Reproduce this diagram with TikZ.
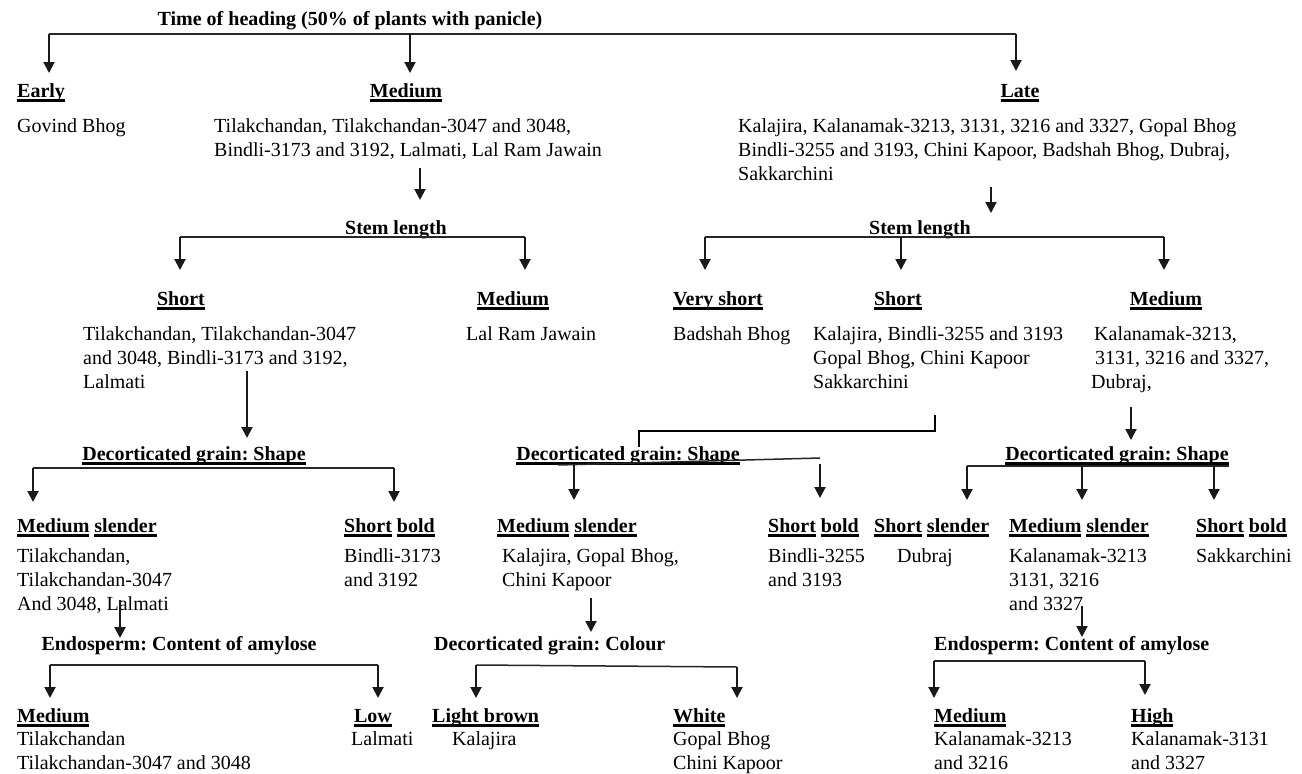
\documentclass[tikz,border=0pt]{standalone}
\usepackage{fontspec}
\setmainfont{Liberation Serif}
\usetikzlibrary{arrows.meta}
\newsavebox\ulbox
\newcommand\myul[1]{\sbox\ulbox{#1}\rlap{\rule[-4.5pt]{\wd\ulbox}{2.3pt}}\usebox\ulbox}
\newcommand\stk[1]{\vtop{\halign{##\hfil\cr#1\crcr}}}
\tikzset{
  hd/.style={inner sep=0pt, font=\bfseries, anchor=base},
  hdw/.style={inner sep=0pt, font=\bfseries, anchor=base west},
  tx/.style={inner sep=0pt, anchor=base west},
  arr/.style={line width=2pt, draw=black!90, -{Triangle[length=11pt,width=11pt]}},
  bus/.style={line width=1.5pt, draw=black!85},
}
\begin{document}
\frenchspacing
\begin{tikzpicture}[x=1pt,y=-1pt]
\fontsize{20}{24}\selectfont\frenchspacing
\fill[white] (0,0) rectangle (1302,774);
\useasboundingbox (0,0) rectangle (1302,774);

% ---------- level 0 ----------
\node[hd] (title) at (350,25) {Time of heading (50\% of plants with panicle)};
\coordinate (b0a) at (49,34); \coordinate (b0b) at (410,34); \coordinate (b0c) at (1016,34);
\draw[bus] (b0a) -- (b0c);
\draw[arr] (b0a) -- ++(0,39);
\draw[arr] (b0b) -- ++(0,39);
\draw[arr] (b0c) -- ++(0,37);

\node[hdw] (early) at (17,97) {\myul{Early}};
\node[hd] (med) at (406,97) {\myul{Medium}};
\node[hd] (late) at (1020,97) {\myul{Late}};
\node[tx] (earlyL) at (17,132) {Govind Bhog};
\node[tx] (medL) at (214,132) {\stk{Tilakchandan, Tilakchandan-3047 and 3048,\cr Bindli-3173 and 3192, Lalmati, Lal Ram Jawain}};
\node[tx] (lateL) at (738,132) {\stk{Kalajira, Kalanamak-3213, 3131, 3216 and 3327, Gopal Bhog\cr Bindli-3255 and 3193, Chini Kapoor, Badshah Bhog, Dubraj,\cr Sakkarchini}};

\coordinate (m1) at (420,168); \draw[arr] (m1) -- ++(0,32);
\coordinate (l1) at (991,187); \draw[arr] (l1) -- ++(0,26);

% ---------- stem length ----------
\node[hd] (stemA) at (396,234) {Stem length};
\coordinate (sa1) at (180,237); \coordinate (sa2) at (525,237);
\draw[bus] (sa1) -- (sa2);
\draw[arr] (sa1) -- ++(0,33);
\draw[arr] (sa2) -- ++(0,33);

\node[hd] (stemB) at (920,234) {Stem length};
\coordinate (sb1) at (705,237); \coordinate (sb2) at (901,237); \coordinate (sb3) at (1164,237);
\draw[bus] (sb1) -- (sb3);
\draw[arr] (sb1) -- ++(0,33);
\draw[arr] (sb2) -- ++(0,33);
\draw[arr] (sb3) -- ++(0,33);

\node[hd] (aShort) at (181,305) {\myul{Short}};
\node[hd] (aMed) at (513,305) {\myul{Medium}};
\node[hd] (bVS) at (718,305) {\myul{Very short}};
\node[hd] (bShort) at (898,305) {\myul{Short}};
\node[hd] (bMed) at (1166,305) {\myul{Medium}};

\node[tx] (aShortL) at (83,340) {\stk{Tilakchandan, Tilakchandan-3047\cr and 3048, Bindli-3173 and 3192,\cr Lalmati}};
\node[tx] (aMedL) at (466,340) {Lal Ram Jawain};
\node[tx] (bVSL) at (673,340) {Badshah Bhog};
\node[tx] (bShortL) at (813,340) {\stk{Kalajira, Bindli-3255 and 3193\cr Gopal Bhog, Chini Kapoor\cr Sakkarchini}};
\node[tx] (bMedL) at (1091,340) {\stk{\kern3pt Kalanamak-3213,\cr\kern4pt 3131, 3216 and 3327,\cr Dubraj,}};

\coordinate (p1) at (247,371); \draw[arr] (p1) -- ++(0,67);
\coordinate (p2) at (1131,407); \draw[arr] (p2) -- ++(0,33);
\coordinate (q1) at (935,415); \coordinate (q2) at (639,447);
\draw[line width=1.3pt] (q1) -- (935,431) -- (639,431) -- (q2);

% ---------- grain shape ----------
\node[hd] (shA) at (194,460) {\myul{Decorticated grain: Shape}};
\node[hd] (shB) at (628,460) {\myul{Decorticated grain: Shape}};
\node[hd] (shC) at (1117,460) {\myul{Decorticated grain: Shape}};

\coordinate (ga1) at (33,468); \coordinate (ga2) at (394,468);
\draw[bus] (ga1) -- (ga2);
\draw[arr] (ga1) -- ++(0,34);
\draw[arr] (ga2) -- ++(0,34);

\coordinate (gb0) at (558,465); \coordinate (gb3) at (820,458);
\draw[bus] (gb0) -- (gb3);
\coordinate (gb1) at (574,465); \coordinate (gb2) at (820,464);
\draw[arr] (gb1) -- ++(0,35);
\draw[arr] (gb2) -- ++(0,34);

\coordinate (gc1) at (967,466); \coordinate (gc2) at (1082,466); \coordinate (gc3) at (1214,466); \coordinate (gc4) at (1229,466);
\draw[bus] (gc1) -- (gc4);
\draw[arr] (gc1) -- ++(0,34);
\draw[arr] (gc2) -- ++(0,34);
\draw[arr] (gc3) -- ++(0,34);

\node[hdw] (a1) at (17,532) {\myul{Medium} \myul{slender}};
\node[hdw] (a2) at (344,532) {\myul{Short} \myul{bold}};
\node[hdw] (b1) at (497,532) {\myul{Medium} \myul{slender}};
\node[hdw] (b2) at (768,532) {\myul{Short} \myul{bold}};
\node[hdw] (c1) at (874,532) {\myul{Short} \myul{slender}};
\node[hdw] (c2) at (1009,532) {\myul{Medium} \myul{slender}};
\node[hdw] (c3) at (1196,532) {\myul{Short} \myul{bold}};

\node[tx] (a1L) at (17,562) {\stk{Tilakchandan,\cr Tilakchandan-3047\cr And 3048, Lalmati}};
\node[tx] (a2L) at (344,562) {\stk{Bindli-3173\cr and 3192}};
\node[tx] (b1L) at (502,562) {\stk{Kalajira, Gopal Bhog,\cr Chini Kapoor}};
\node[tx] (b2L) at (768,562) {\stk{Bindli-3255\cr and 3193}};
\node[tx] (c1L) at (897,562) {Dubraj};
\node[tx] (c2L) at (1009,562) {\stk{Kalanamak-3213\cr 3131, 3216\cr and 3327}};
\node[tx] (c3L) at (1196,562) {Sakkarchini};

\coordinate (r1) at (120,600); \draw[arr] (r1) -- ++(0,38);
\coordinate (r2) at (591,598); \draw[arr] (r2) -- ++(0,34);
\coordinate (r3) at (1082,606); \draw[arr] (r3) -- ++(0,31);

% ---------- amylose / colour ----------
\node[hd] (enA) at (179,650) {Endosperm: Content of amylose};
\node[hdw] (col) at (434,650) {Decorticated grain: Colour};
\node[hdw] (enC) at (934,650) {Endosperm: Content of amylose};

\coordinate (ha1) at (50,665); \coordinate (ha2) at (378,665);
\draw[bus] (ha1) -- (ha2);
\draw[arr] (ha1) -- ++(0,33);
\draw[arr] (ha2) -- ++(0,33);

\coordinate (hb1) at (476,665); \coordinate (hb2) at (737,667);
\draw[bus] (hb1) -- (hb2);
\draw[arr] (hb1) -- ++(0,33);
\draw[arr] (hb2) -- ++(0,31);

\coordinate (hc1) at (934,661); \coordinate (hc2) at (1145,661);
\draw[bus] (hc1) -- (hc2);
\draw[arr] (hc1) -- ++(0,37);
\draw[arr] (hc2) -- ++(0,34);

\node[hdw] (d1) at (17,722) {\myul{Medium}};
\node[hd] (d2) at (373,722) {\myul{Low}};
\node[hdw] (e1) at (432,722) {\myul{Light brown}};
\node[hdw] (e2) at (673,722) {\myul{White}};
\node[hdw] (f1) at (934,722) {\myul{Medium}};
\node[hdw] (f2) at (1131,722) {\myul{High}};

\node[tx] (d1L) at (17,745) {\stk{Tilakchandan\cr Tilakchandan-3047 and 3048}};
\node[tx] (d2L) at (351,745) {Lalmati};
\node[tx] (e1L) at (452,745) {Kalajira};
\node[tx] (e2L) at (673,745) {\stk{Gopal Bhog\cr Chini Kapoor}};
\node[tx] (f1L) at (934,745) {\stk{Kalanamak-3213\cr and 3216}};
\node[tx] (f2L) at (1131,745) {\stk{Kalanamak-3131\cr and 3327}};
\end{tikzpicture}
\end{document}
